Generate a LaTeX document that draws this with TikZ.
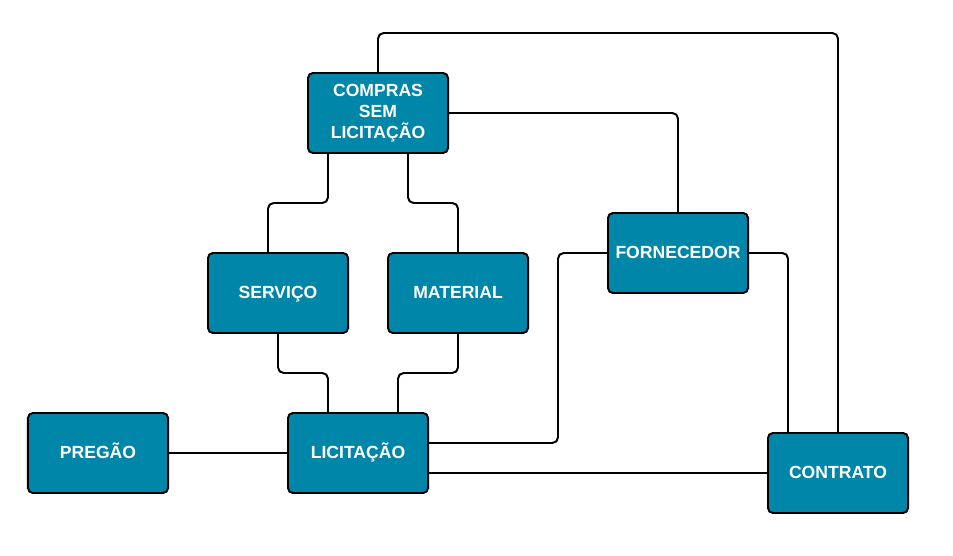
\documentclass[tikz,border=0pt]{standalone}
\usepackage{fontspec}
\setmainfont{Liberation Sans}
\usepackage{xcolor}
\usepackage{tikz}
\usetikzlibrary{positioning}
\pgfdeclarelayer{nodelayer}
\pgfdeclarelayer{edgelayer}
\pgfsetlayers{edgelayer,nodelayer,main}
\definecolor{boxteal}{RGB}{0,134,168}
\tikzset{
    caixa/.style={rectangle, rounded corners=3.5pt, draw=black, line width=1.4pt,
        fill=boxteal, text=white, minimum width=3.5cm, minimum height=2cm,
        align=center, font=\fontsize{12.5}{15}\selectfont\bfseries},
    caixalinha/.style={caixa, text height=1.7ex, text depth=0.2ex},
    link/.style={draw=black, line width=1.4pt, rounded corners=4pt}
}
\begin{document}
\begin{tikzpicture}[x=0.025cm, y=-0.025cm]
        \useasboundingbox (0, 0) rectangle (953, 556);
        \begin{pgfonlayer}{nodelayer}
            \node [caixa] (compras) at (378, 113) {COMPRAS\\SEM\\LICITAÇÃO};
            \node [caixalinha] (servico) at (278, 293) {SERVIÇO};
            \node [caixalinha] (material) at (458, 293) {MATERIAL};
            \node [caixalinha] (fornecedor) at (678, 253) {FORNECEDOR};
            \node [caixalinha] (pregao) at (98, 453) {PREGÃO};
            \node [caixalinha] (licitacao) at (358, 453) {LICITAÇÃO};
            \node [caixalinha] (contrato) at (838, 473) {CONTRATO};
        \end{pgfonlayer}
        \begin{pgfonlayer}{edgelayer}
            % bends
            \coordinate (b0) at (378, 33);
            \coordinate (b1) at (328, 203);
            \coordinate (b2) at (268, 203);
            \coordinate (b3) at (408, 203);
            \coordinate (b4) at (458, 203);
            \coordinate (b5) at (278, 373);
            \coordinate (b6) at (328, 373);
            \coordinate (b7) at (458, 373);
            \coordinate (b8) at (398, 373);
            \coordinate (b9) at (558, 443);
            \coordinate (b10) at (788, 253);
            \coordinate (b11) at (428, 473);
            \draw [link] (compras.north) -- (b0) -| (contrato.north);
            \draw [link] (compras.east) -| (fornecedor.north);
            \draw [link] (compras.south -| b1) -- (b1) -- (b2) -- (servico.north -| b2);
            \draw [link] (compras.south -| b3) -- (b3) -- (b4) -- (material.north);
            \draw [link] (servico.south) -- (b5) -- (b6) -- (licitacao.north -| b6);
            \draw [link] (material.south) -- (b7) -- (b8) -- (licitacao.north -| b8);
            \draw [link] (pregao.east) -- (licitacao.west);
            \draw [link] (licitacao.east |- b9) -- (b9) |- (fornecedor.west);
            \draw [link] (fornecedor.east) -- (b10) -- (contrato.north -| b10);
            \draw [link] (licitacao.east |- b11) -- (contrato.west);
        \end{pgfonlayer}
    \end{tikzpicture}
\end{document}
